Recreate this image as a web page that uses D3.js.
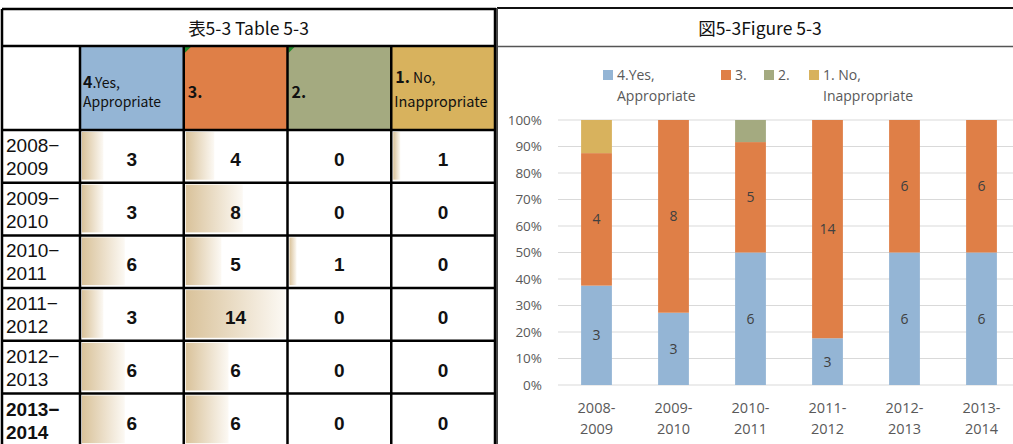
<!DOCTYPE html>
<html>
<head>
<meta charset="utf-8">
<script src="https://cdn.jsdelivr.net/npm/d3@7/dist/d3.min.js"></script>
<style>
  html, body { margin: 0; padding: 0; background: #fff; }
  svg { display: block; }
</style>
</head>
<body>
<svg id="chart" width="1013" height="444"></svg>
<script>
// Survey answers per academic year
const periods = ["2008-2009", "2009-2010", "2010-2011", "2011-2012", "2012-2013", "2013-2014"];
const seriesKeys = ["yes", "three", "two", "no"];
const seriesLine1 = ["4.Yes,", "3.", "2.", "1. No,"];
const seriesLine2 = ["Appropriate", "", "", "Inappropriate"];
const seriesColors = ["#94B5D5", "#DF7F47", "#A4AA80", "#D8B25D"];
const yesValues = [3, 3, 6, 3, 6, 6];
const threeValues = [4, 8, 5, 14, 6, 6];
const twoValues = [0, 0, 1, 0, 0, 0];
const noValues = [1, 0, 0, 0, 0, 0];
const yTickValues = [0, 0.1, 0.2, 0.3, 0.4, 0.5, 0.6, 0.7, 0.8, 0.9, 1];
const tableTitle = "表5-3 Table 5-3";
const figureTitle = "図5-3Figure 5-3";

const valuesByKey = { yes: yesValues, three: threeValues, two: twoValues, no: noValues };
const rows = periods.map((p, i) => {
  const r = { period: p };
  seriesKeys.forEach(k => r[k] = valuesByKey[k][i]);
  r.total = d3.sum(seriesKeys, k => r[k]);
  return r;
});

const svg = d3.select("#chart");
const jp = "'Noto Sans CJK JP', 'Noto Sans', sans-serif";
const cellFont = "'Liberation Sans', Arial, sans-serif";
const chartFont = "'Open Sans', 'Noto Sans', sans-serif";

// ---------- Table ----------
const tbl = svg.append("g");
const tLeft = 2, tRight = 495, labelColRight = 80;
const colX = d3.scaleBand().domain(seriesKeys).range([labelColRight, tRight]);
const rowY = d3.scaleBand().domain(periods).range([130, 130 + 6 * 52.7]);
const headerTop = 46, titleTop = 9;

// data bar gradient
const defs = svg.append("defs");
const grad = defs.append("linearGradient").attr("id", "dbar").attr("x1", 0).attr("x2", 1).attr("y1", 0).attr("y2", 0);
grad.append("stop").attr("offset", 0).attr("stop-color", "#D9C29A");
grad.append("stop").attr("offset", 1).attr("stop-color", "#FCF9F4");

// header fills
tbl.selectAll("rect.hdr").data(seriesKeys).join("rect")
  .attr("x", d => colX(d)).attr("y", headerTop)
  .attr("width", colX.bandwidth()).attr("height", 130 - headerTop)
  .attr("fill", (d, i) => seriesColors[i]);

// small green corner markers on the "3." and "2." headers
tbl.selectAll("path.mark").data(["three", "two"]).join("path")
  .attr("d", d => { const x = colX(d) + 1, y = headerTop + 1; return `M${x},${y}h6l-6,6z`; })
  .attr("fill", "#1F8A2A");

// data bars
const barLen = d3.scaleLinear()
  .domain([0, d3.max(rows, r => d3.max(seriesKeys, k => r[k]))])
  .range([0, colX.bandwidth() - 4]);
rows.forEach(r => {
  seriesKeys.forEach(k => {
    if (r[k] > 0) {
      tbl.append("rect")
        .attr("x", colX(k) + 2).attr("y", rowY(r.period) + 2)
        .attr("width", barLen(r[k])).attr("height", rowY.bandwidth() - 5)
        .attr("fill", "url(#dbar)");
    }
  });
});

// header texts
const hdrText = tbl.append("g").attr("font-family", jp).attr("fill", "#111");
// 4.Yes, Appropriate
const t1 = hdrText.append("text").attr("x", colX("yes") + 3).attr("y", 88);
t1.append("tspan").attr("font-size", 16).attr("font-weight", 600).text("4");
t1.append("tspan").attr("font-size", 14).text(".Yes,");
hdrText.append("text").attr("x", colX("yes") + 3).attr("y", 107).attr("font-size", 14).text(seriesLine2[0]);
hdrText.append("text").attr("x", colX("three") + 4).attr("y", 98).attr("font-size", 16).attr("font-weight", 600).text(seriesLine1[1]);
hdrText.append("text").attr("x", colX("two") + 4).attr("y", 98).attr("font-size", 16).attr("font-weight", 600).text(seriesLine1[2]);
const t4 = hdrText.append("text").attr("x", colX("no") + 4).attr("y", 83);
t4.append("tspan").attr("font-size", 16).attr("font-weight", 600).text("1.");
t4.append("tspan").attr("font-size", 14).text(" No,");
hdrText.append("text").attr("x", colX("no") + 3).attr("y", 107).attr("font-size", 14.5).text(seriesLine2[3]);

// table title
tbl.append("text").attr("x", (tLeft + tRight) / 2).attr("y", 35)
  .attr("text-anchor", "middle").attr("font-family", jp).attr("font-size", 17.5).attr("fill", "#111")
  .text(tableTitle);

// row labels and values
rows.forEach((r, i) => {
  const y0 = rowY(r.period);
  const parts = r.period.split("-");
  const bold = i === rows.length - 1 ? 700 : 400;
  tbl.append("text").attr("font-family", cellFont).attr("font-size", 19).attr("font-weight", bold).attr("fill", "#111")
    .attr("x", tLeft + 4).attr("y", y0 + 22).text(parts[0] + "−");
  tbl.append("text").attr("font-family", cellFont).attr("font-size", 19).attr("font-weight", bold).attr("fill", "#111")
    .attr("x", tLeft + 4).attr("y", y0 + 45).text(parts[1]);
  seriesKeys.forEach(k => {
    tbl.append("text").attr("x", colX(k) + colX.bandwidth() / 2).attr("y", y0 + 36)
      .attr("text-anchor", "middle").attr("font-family", cellFont).attr("font-size", 19).attr("font-weight", 700)
      .attr("fill", "#111").text(r[k]);
  });
});

// grid lines of the table
const lines = tbl.append("g").attr("stroke", "#000").attr("stroke-width", 2.5);
const hLines = [titleTop, headerTop].concat(periods.map(p => rowY(p)));
hLines.forEach(y => lines.append("line").attr("x1", tLeft).attr("x2", tRight + 1).attr("y1", y).attr("y2", y));
[tLeft, tRight].forEach(x => lines.append("line").attr("x1", x).attr("x2", x).attr("y1", titleTop).attr("y2", 444));
[labelColRight].concat(seriesKeys.slice(1).map(k => colX(k))).forEach(x =>
  lines.append("line").attr("x1", x).attr("x2", x).attr("y1", headerTop).attr("y2", 444));

// ---------- Figure ----------
const fig = svg.append("g");
const pLeft = 497;
fig.append("line").attr("x1", pLeft).attr("x2", 1013).attr("y1", 8).attr("y2", 8).attr("stroke", "#111").attr("stroke-width", 2);
fig.append("line").attr("x1", pLeft).attr("x2", 1013).attr("y1", 46.5).attr("y2", 46.5).attr("stroke", "#555").attr("stroke-width", 1.5);
fig.append("line").attr("x1", pLeft).attr("x2", pLeft).attr("y1", 8).attr("y2", 444).attr("stroke", "#444").attr("stroke-width", 2);
fig.append("text").attr("x", 760).attr("y", 35).attr("text-anchor", "middle")
  .attr("font-family", jp).attr("font-size", 17.5).attr("fill", "#111").text(figureTitle);

const x = d3.scaleBand().domain(periods).range([558, 1020]).paddingInner(0.6).paddingOuter(0.3);
const y = d3.scaleLinear().domain([0, 1]).range([385, 120]);

// gridlines
fig.append("g").selectAll("line").data(yTickValues).join("line")
  .attr("x1", 558).attr("x2", 1020)
  .attr("y1", d => y(d)).attr("y2", d => y(d))
  .attr("stroke", "#D9D9D9").attr("stroke-width", 1);

// y axis labels
const yAxis = d3.axisLeft(y).tickValues(yTickValues).tickFormat(d3.format(".0%")).tickSize(0).tickPadding(0);
const yg = fig.append("g").attr("transform", "translate(542,0)").call(yAxis);
yg.select(".domain").remove();
yg.selectAll("text").attr("font-family", chartFont).attr("font-size", 13.5).attr("fill", "#595959");

// stacked segments (share of each year's total)
const stack = d3.stack().keys(seriesKeys).value((d, k) => d[k] / d.total);
const stacked = stack(rows);
const layers = fig.append("g").selectAll("g").data(stacked).join("g")
  .attr("fill", (d, i) => seriesColors[i]);
layers.selectAll("rect").data(d => d.map(s => ({ s, key: d.key }))).join("rect")
  .attr("x", d => x(d.s.data.period))
  .attr("width", x.bandwidth())
  .attr("y", d => y(d.s[1]))
  .attr("height", d => y(d.s[0]) - y(d.s[1]));

// value labels on the first two series
const labelled = stacked.filter(l => l.key === "yes" || l.key === "three");
labelled.forEach(l => {
  l.forEach(s => {
    const v = s.data[l.key];
    if (v > 0) {
      fig.append("text")
        .attr("x", x(s.data.period) + x.bandwidth() / 2)
        .attr("y", y((s[0] + s[1]) / 2))
        .attr("dy", "0.36em").attr("text-anchor", "middle")
        .attr("font-family", chartFont).attr("font-size", 14).attr("fill", "#404040")
        .text(v);
    }
  });
});

// x axis labels
const xg = fig.append("g");
periods.forEach(p => {
  const parts = p.split("-");
  const t = xg.append("text").attr("text-anchor", "middle")
    .attr("font-family", chartFont).attr("font-size", 14.5).attr("fill", "#595959");
  t.append("tspan").attr("x", x(p) + x.bandwidth() / 2).attr("y", 413).text(parts[0] + "-");
  t.append("tspan").attr("x", x(p) + x.bandwidth() / 2).attr("y", 434).text(parts[1]);
});

// legend
const legendX = [603, 721, 764, 809];
const lg = fig.append("g").attr("font-family", chartFont).attr("font-size", 14).attr("fill", "#595959");
seriesKeys.forEach((k, i) => {
  lg.append("rect").attr("x", legendX[i]).attr("y", 70).attr("width", 10).attr("height", 10).attr("fill", seriesColors[i]);
  lg.append("text").attr("x", legendX[i] + 14).attr("y", 80).text(seriesLine1[i]);
  if (seriesLine2[i]) lg.append("text").attr("x", legendX[i] + 14).attr("y", 101).text(seriesLine2[i]);
});
</script>
</body>
</html>
